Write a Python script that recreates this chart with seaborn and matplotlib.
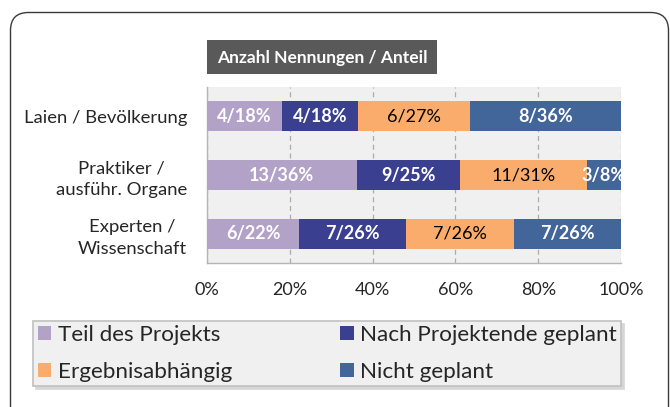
import numpy as np
import pandas as pd
import matplotlib
matplotlib.use("Agg")
import matplotlib.pyplot as plt
from matplotlib.patches import FancyBboxPatch, Patch
import seaborn as sns

# ---- data ----
categories = ["Laien / Bevölkerung", "Praktiker /\nausführ. Organe", "Experten /\nWissenschaft"]
series = ["Teil des Projekts", "Nach Projektende geplant", "Ergebnisabhängig", "Nicht geplant"]
teil = [4, 13, 6]
nach = [4, 9, 7]
ergebnis = [6, 11, 7]
nicht = [8, 3, 7]
colors = ["#b3a2c7", "#3b3f8f", "#f9ac6b", "#426699"]
label_colors = ["white", "white", "black", "white"]
label_weights = ["bold", "bold", "normal", "bold"]
x_ticks = [0, 20, 40, 60, 80, 100]
x_ticklabels = ["0%", "20%", "40%", "60%", "80%", "100%"]
title = "Anzahl Nennungen / Anteil"

counts = np.array([teil, nach, ergebnis, nicht], dtype=float)  # series x category
totals = counts.sum(axis=0)
shares = counts / totals * 100
cum = np.cumsum(shares, axis=0)

sns.set_style("white")
plt.rcParams["font.family"] = ["Lato", "DejaVu Sans"]

W, H = 670, 407
fig = plt.figure(figsize=(W / 100, H / 100), dpi=100)

# background axes in pixel units for the frame and the title box
bg = fig.add_axes([0, 0, 1, 1], zorder=0)
bg.set_xlim(0, W)
bg.set_ylim(H, 0)
bg.axis("off")
frame = FancyBboxPatch((10.5, 12.5), 658, 420, boxstyle="round,pad=0,rounding_size=18",
                       facecolor="white", edgecolor="#3a3a3a", linewidth=1.0)
bg.add_patch(frame)
tbox = FancyBboxPatch((207, 40), 230, 34, boxstyle="square,pad=0",
                      facecolor="#595959", edgecolor="none")
bg.add_patch(tbox)
bg.text(322, 57.5, title, color="white", fontsize=12.5, fontweight="bold",
        ha="center", va="center")

# main axes
ax = fig.add_axes([207 / W, 1 - 263 / H, (621 - 207) / W, (263 - 87) / H], zorder=2)
ax.set_facecolor("#f0f0f0")

# stacked bars: draw cumulative totals from the largest down
for i in range(len(series) - 1, -1, -1):
    df = pd.DataFrame({"cat": categories, "val": cum[i]})
    sns.barplot(data=df, x="val", y="cat", orient="h", color=colors[i],
                saturation=1, width=0.51, ax=ax, zorder=3, edgecolor="none")

# data labels
for i in range(len(series)):
    for j in range(len(categories)):
        start = cum[i][j] - shares[i][j]
        center = start + shares[i][j] / 2
        txt = f"{int(counts[i][j])}/{shares[i][j]:.0f}%"
        ax.text(center, j, txt, ha="center", va="center", fontsize=13,
                color=label_colors[i], fontweight=label_weights[i], zorder=5, clip_on=True)

ax.set_xlim(0, 100)
ax.set_ylim(2.5, -0.5)
ax.set_xticks(x_ticks)
ax.set_xticklabels(x_ticklabels, fontsize=13)
ax.set_xlabel("")
ax.set_ylabel("")
ax.grid(axis="x", color="#ababab", linestyle=(0, (4, 3)), linewidth=0.9, zorder=1)
ax.set_axisbelow(True)
ax.tick_params(axis="x", length=6, color="#b5b5b5", pad=8, direction="out")
ax.set_yticks([0, 1, 2])
ax.set_yticklabels(categories, fontsize=13.3, ha="right", multialignment="center",
                   linespacing=1.45)
ax.tick_params(axis="y", length=0, pad=14.4)
ax.set_yticks([-0.5, 0.5, 1.5, 2.5], minor=True)
ax.tick_params(axis="y", which="minor", length=6, color="#b5b5b5", direction="out")
for s in ["top", "right"]:
    ax.spines[s].set_visible(False)
for s in ["left", "bottom"]:
    ax.spines[s].set_color("#b5b5b5")
    ax.spines[s].set_linewidth(1.0)

handles = [Patch(facecolor=c, edgecolor="none") for c in colors]
order = [0, 2, 1, 3]  # row-wise layout in a 2-column legend
leg = fig.legend([handles[k] for k in order], [series[k] for k in order],
                 loc="lower left", ncol=2, mode="expand",
                 bbox_to_anchor=(33 / W, 1 - 386 / H, (621 - 33) / W, (386 - 320) / H),
                 fontsize=16.2, frameon=True, fancybox=False,
                 shadow={"ox": 2, "oy": -2, "color": "#d6d6d6", "alpha": 1},
                 handlelength=0.62, handleheight=0.58, handletextpad=0.27,
                 borderpad=0.2, labelspacing=0.72, columnspacing=1.0,
                 borderaxespad=0)
leg.get_frame().set_facecolor("#f0f0f0")
leg.get_frame().set_edgecolor("#c0c0c0")
leg.get_frame().set_linewidth(1.2)
leg.set_zorder(3)

fig.savefig("out.png", dpi=100)
